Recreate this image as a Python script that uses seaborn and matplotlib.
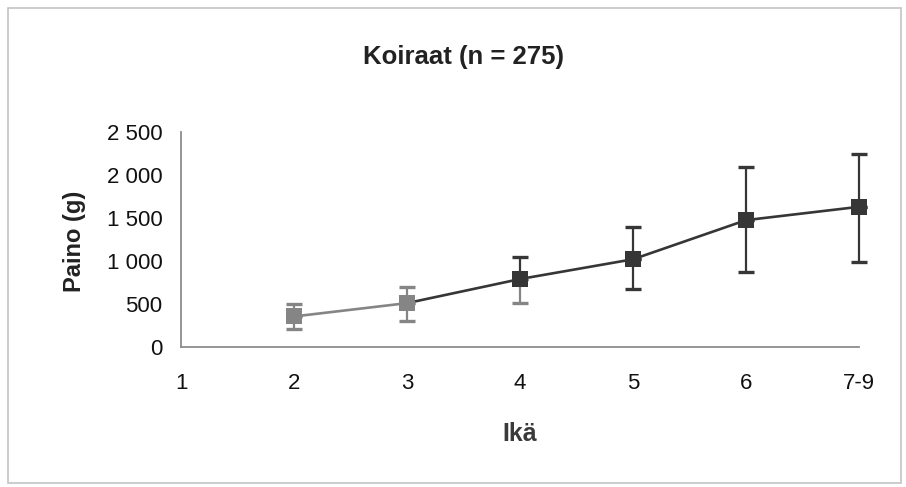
import matplotlib
matplotlib.use("Agg")
import matplotlib.pyplot as plt
from matplotlib.patches import Rectangle
import pandas as pd
import seaborn as sns

# Age groups and mean body weight (g) with spread
age_labels = ["1", "2", "3", "4", "5", "6", "7-9"]
data_ages = ["2", "3", "4", "5", "6", "7-9"]
weight_mean = [355, 510, 790, 1020, 1475, 1630]
weight_low = [210, 300, 510, 675, 870, 990]
weight_high = [500, 700, 1045, 1395, 2090, 2245]
y_ticks = [0, 500, 1000, 1500, 2000, 2500]
y_tick_labels = ["0", "500", "1 000", "1 500", "2 000", "2 500"]

sns.set_style("white")
plt.rcParams["font.family"] = ["Liberation Sans", "DejaVu Sans"]

fig = plt.figure(figsize=(9.06, 4.87), dpi=100)
ax = fig.add_axes([0.1998, 0.2875, 0.7484, 0.4415])

pos = [age_labels.index(a) for a in data_ages]
df = pd.DataFrame({"x": pos, "y": weight_mean})

light = "#858585"
dark = "#363636"
upper_colors = [light, light, dark, dark, dark, dark]
lower_colors = [light, light, light, dark, dark, dark]
marker_colors = [light, light, dark, dark, dark, dark]

# connecting line: the first segment is drawn lighter
sns.lineplot(data=df.iloc[:2], x="x", y="y", ax=ax, color=light, lw=1.9, zorder=2)
sns.lineplot(data=df.iloc[1:], x="x", y="y", ax=ax, color=dark, lw=1.9, zorder=1.9)

for i, (x, m, lo, hi) in enumerate(zip(pos, weight_mean, weight_low, weight_high)):
    for err, c in (([[0], [hi - m]], upper_colors[i]), ([[m - lo], [0]], lower_colors[i])):
        eb = ax.errorbar(x, m, yerr=err, fmt="none", ecolor=c, elinewidth=1.6,
                         capsize=6, capthick=2.4, zorder=3)
        for art in list(eb.lines[1]) + list(eb.lines[2]):
            art.set_clip_on(False)
    ax.scatter([x], [m], marker="s", s=135, color=marker_colors[i], zorder=4,
               linewidths=0, clip_on=False)

ax.set_xlim(0, 6)
ax.set_ylim(0, 2500)
ax.set_xticks(range(len(age_labels)))
ax.set_xticklabels(age_labels)
ax.set_yticks(y_ticks)
ax.set_yticklabels(y_tick_labels)

for side in ["top", "right"]:
    ax.spines[side].set_visible(False)
for side in ["left", "bottom"]:
    ax.spines[side].set_color("#8c8c8c")
    ax.spines[side].set_linewidth(1.3)

ax.tick_params(axis="both", which="major", direction="inout", length=11,
               width=1.2, color="#8c8c8c", labelsize=16, labelcolor="#111111")
ax.tick_params(axis="x", pad=13)
ax.tick_params(axis="y", pad=8)

ax.set_xlabel("Ikä", fontsize=18, fontweight="bold", color="#3a3a3a")
ax.xaxis.set_label_coords(0.5, -0.35)
ax.set_ylabel("Paino (g)", fontsize=17, fontweight="bold", color="#222222")
ax.yaxis.set_label_coords(-0.14, 0.49)
fig.text(0.512, 0.883, "Koiraat (n = 275)", ha="center", va="center",
         fontsize=18.5, fontweight="bold", color="#222222")

fig.patches.append(Rectangle((0.009, 0.008), 0.986, 0.975, transform=fig.transFigure,
                             fill=False, edgecolor="#c4c4c4", lw=1.2))

fig.savefig("out.png", dpi=100)
